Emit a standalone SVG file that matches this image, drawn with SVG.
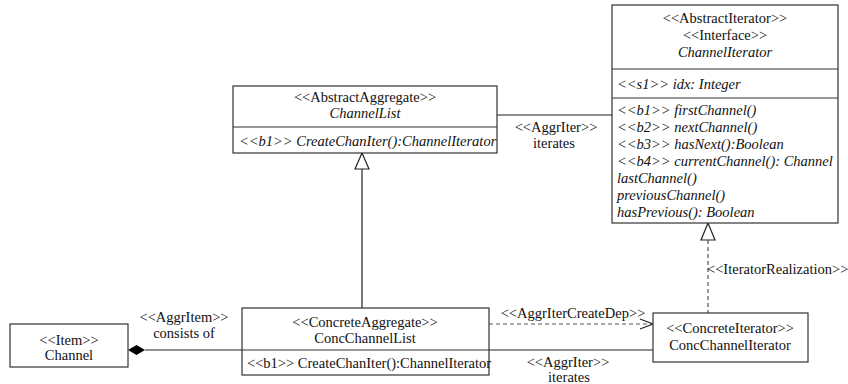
<svg xmlns="http://www.w3.org/2000/svg" width="848" height="384" viewBox="0 0 848 384" font-family="Liberation Serif, Times New Roman, serif" font-size="14.5">
<style>
.box{fill:#fff;stroke:#333;stroke-width:1.2}
.sep{stroke:#333;stroke-width:1.2}
text{fill:#111}
.c{text-anchor:middle}
.i{font-style:italic}
.ln{fill:none;stroke:#222;stroke-width:1.2}
.dash{fill:none;stroke:#555;stroke-width:1.2;stroke-dasharray:4,3}
.tri{fill:#fff;stroke:#222;stroke-width:1.2}
</style>
<rect width="848" height="384" fill="#fff"/>
<g id="connectors">
  <line class="ln" x1="497" y1="115" x2="612" y2="115"/>
  <line class="ln" x1="362" y1="169" x2="362" y2="308"/>
  <polygon class="tri" points="362,153 355,169 369,169"/>
  <line class="ln" x1="145" y1="350" x2="242" y2="350"/>
  <polygon points="128,350 136.5,345 145,350 136.5,355" fill="#000"/>
  <line class="ln" x1="489" y1="350" x2="653" y2="350"/>
  <line class="dash" x1="489" y1="324" x2="652" y2="324"/>
  <polyline class="ln" points="640,319 653,324 640,329"/>
  <line class="dash" x1="708" y1="240" x2="708" y2="313"/>
  <polygon class="tri" points="708,223 701,240 715,240"/>
  <text class="c" x="556" y="132">&lt;&lt;AggrIter&gt;&gt;</text>
  <text class="c" x="554" y="148">iterates</text>
  <text class="c" x="184" y="322">&lt;&lt;AggrItem&gt;&gt;</text>
  <text class="c" x="184" y="338">consists of</text>
  <text class="c" x="573" y="318">&lt;&lt;AggrIterCreateDep&gt;&gt;</text>
  <text class="c" x="568" y="367">&lt;&lt;AggrIter&gt;&gt;</text>
  <text class="c" x="569" y="382">iterates</text>
  <text x="707" y="274">&lt;&lt;IteratorRealization&gt;&gt;</text>
</g>
<g id="ChannelIterator">
  <rect class="box" x="612" y="5" width="226" height="218"/>
  <line class="sep" x1="612" y1="69" x2="838" y2="69"/>
  <line class="sep" x1="612" y1="98" x2="838" y2="98"/>
  <text class="c" x="725" y="23">&lt;&lt;AbstractIterator&gt;&gt;</text>
  <text class="c" x="725" y="40">&lt;&lt;Interface&gt;&gt;</text>
  <text class="c i" x="725" y="57">ChannelIterator</text>
  <text class="i" x="617" y="89">&lt;&lt;s1&gt;&gt; idx: Integer</text>
  <text class="i" x="617" y="115">&lt;&lt;b1&gt;&gt; firstChannel()</text>
  <text class="i" x="617" y="132">&lt;&lt;b2&gt;&gt; nextChannel()</text>
  <text class="i" x="617" y="149">&lt;&lt;b3&gt;&gt; hasNext():Boolean</text>
  <text class="i" x="617" y="166">&lt;&lt;b4&gt;&gt; currentChannel(): Channel</text>
  <text class="i" x="617" y="183">lastChannel()</text>
  <text class="i" x="617" y="200">previousChannel()</text>
  <text class="i" x="617" y="217">hasPrevious(): Boolean</text>
</g>
<g id="ChannelList">
  <rect class="box" x="233" y="86" width="264" height="67"/>
  <line class="sep" x1="233" y1="127" x2="497" y2="127"/>
  <text class="c" x="365" y="102">&lt;&lt;AbstractAggregate&gt;&gt;</text>
  <text class="c i" x="365" y="118">ChannelList</text>
  <text class="i" x="239" y="146">&lt;&lt;b1&gt;&gt; CreateChanIter():ChannelIterator</text>
</g>
<g id="ConcChannelList">
  <rect class="box" x="242" y="308" width="247" height="67"/>
  <line class="sep" x1="242" y1="350" x2="489" y2="350"/>
  <text class="c" x="365" y="327">&lt;&lt;ConcreteAggregate&gt;&gt;</text>
  <text class="c" x="365" y="343">ConcChannelList</text>
  <text x="247" y="368">&lt;&lt;b1&gt;&gt; CreateChanIter():ChannelIterator</text>
</g>
<g id="Channel">
  <rect class="box" x="10" y="324" width="118" height="43"/>
  <text class="c" x="69" y="345">&lt;&lt;Item&gt;&gt;</text>
  <text class="c" x="69" y="360">Channel</text>
</g>
<g id="ConcChannelIterator">
  <rect class="box" x="653" y="313" width="155" height="49"/>
  <text class="c" x="730" y="333">&lt;&lt;ConcreteIterator&gt;&gt;</text>
  <text class="c" x="730" y="350">ConcChannelIterator</text>
</g>
</svg>
